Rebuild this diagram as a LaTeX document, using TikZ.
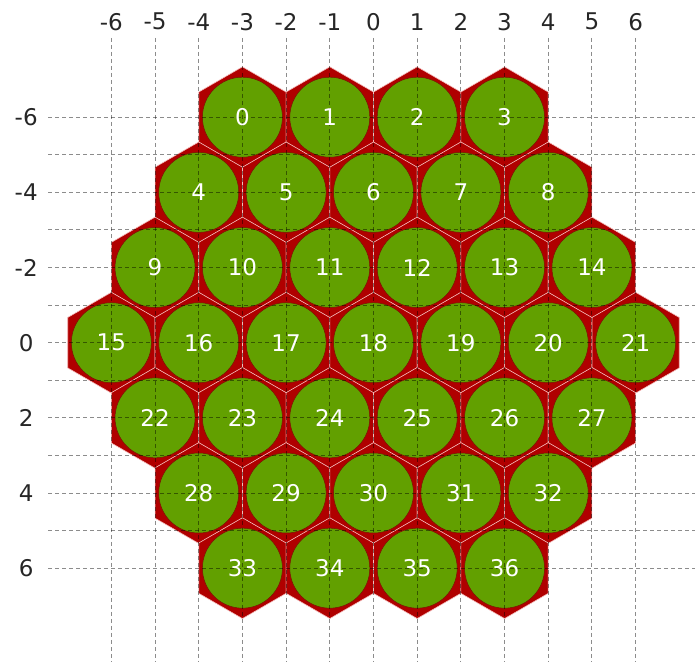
\documentclass[tikz,border=0pt]{standalone}
\usepackage{fontspec}
\setmainfont{DejaVu Sans}
\usetikzlibrary{shapes.geometric}
\definecolor{hxRed}{RGB}{176,0,0}
\definecolor{hxGreen}{RGB}{98,160,0}
\definecolor{hxEdge}{RGB}{245,190,190}
\definecolor{hxRim}{RGB}{120,20,0}

\begin{document}
\begin{tikzpicture}[
  x=43.69pt, y={(0pt,-37.58pt)},
  font=\fontsize{23}{27}\selectfont,
  hexcell/.style={regular polygon, regular polygon sides=6, shape border rotate=30,
    minimum size=100.8pt, inner sep=0pt, fill=hxRed, draw=hxEdge, line width=0.6pt},
  disk/.style={circle, minimum size=80pt, inner sep=0pt, fill=hxGreen,
    draw=hxRim, line width=0.5pt},
  num/.style={text=white, inner sep=0pt},
  axlbl/.style={text=black!85, inner sep=0pt},
  gridln/.style={draw=black, opacity=0.45, line width=0.9pt, dash pattern=on 4pt off 3pt}
]
  \useasboundingbox (-8.549,-9.119) rectangle (7.359,8.497);
  % cells: index/x/y
  \foreach \n/\x/\y in {0/-3/-6, 1/-1/-6, 2/1/-6, 3/3/-6,
    4/-4/-4, 5/-2/-4, 6/0/-4, 7/2/-4, 8/4/-4,
    9/-5/-2, 10/-3/-2, 11/-1/-2, 12/1/-2, 13/3/-2, 14/5/-2,
    15/-6/0, 16/-4/0, 17/-2/0, 18/0/0, 19/2/0, 20/4/0, 21/6/0,
    22/-5/2, 23/-3/2, 24/-1/2, 25/1/2, 26/3/2, 27/5/2,
    28/-4/4, 29/-2/4, 30/0/4, 31/2/4, 32/4/4,
    33/-3/6, 34/-1/6, 35/1/6, 36/3/6} {
    \node[hexcell] (h\n) at (\x,\y) {};
    \node[disk] (d\n) at (h\n) {};
  }
  % grid and axis labels
  \foreach \i in {-6,...,6} {
    \node[axlbl] (top\i) at (\i,-8.54) {\i};
    \draw[gridln] (\i,-8.11) -- (\i,8.5);
    \draw[gridln] (-7.45,\i) -- (7.36,\i);
  }
  \foreach \j in {-6,-4,...,6}
    \node[axlbl] (side\j) at (-7.95,\j) {\j};
  % cell numbers
  \foreach \n in {0,...,36}
    \node[num] (n\n) at (d\n) {\n};
\end{tikzpicture}
\end{document}
